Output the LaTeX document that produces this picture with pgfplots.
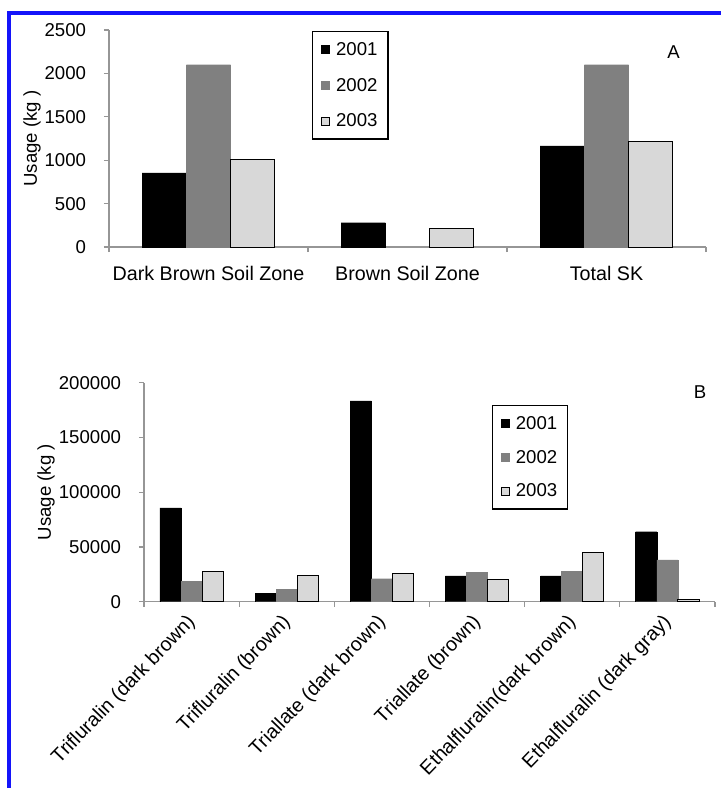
\documentclass[border=0pt]{standalone}
\usepackage{fontspec}
\setmainfont{Liberation Sans}
\usepackage{pgfplots}
\pgfplotsset{compat=1.18}

\definecolor{barB}{RGB}{128,128,128}
\definecolor{barC}{RGB}{216,216,216}
\definecolor{axisgray}{RGB}{150,150,150}
\definecolor{frameblue}{RGB}{20,20,250}

\newcommand{\chartfont}{\fontsize{18.6}{22}\selectfont}
\newcommand{\catfont}{\fontsize{19.7}{23}\selectfont}

\pgfplotsset{
  usagebars/.style={
    ybar=0pt,
    scale only axis,
    axis x line*=bottom,
    axis y line*=left,
    axis line style={axisgray, line width=1.2pt},
    tick style={axisgray, line width=1.2pt},
    major tick length=5pt,
    minor tick length=5pt,
    tick align=outside,
    major x tick style={draw=none},
    ytick pos=left, xtick pos=bottom,
    font=\chartfont,
    tick label style={font=\chartfont},
    yticklabel style={xshift=-14.5pt},
    scaled y ticks=false,
    /pgf/number format/.cd, fixed, precision=0, 1000 sep={}, assume math mode=true, /pgfplots/.cd,
    ymin=0,
    legend cell align=left,
    legend image code/.code={\draw[#1, line width=1pt] (0pt,-4pt) rectangle (8pt,4pt);},
    legend style={draw=black, line width=1.2pt, font=\chartfont,
      inner xsep=8.5pt, inner ysep=8.5pt, anchor=north west,
      /tikz/every odd column/.append style={column sep=4pt}},
  },
}

\begin{document}
\begin{tikzpicture}
\useasboundingbox (0pt,0pt) rectangle (721pt,-788pt);
\draw[frameblue, line width=4pt] (9pt,-788pt) -- (9pt,-13pt) -- (721pt,-13pt);

% Panel A: usage by soil zone
\begin{axis}[usagebars,
  at={(109pt,-247pt)}, anchor=south west,
  width=597pt, height=217pt,
  xmin=-0.5, xmax=2.5, ymax=2500,
  ytick={0,500,...,2500},
  xtick={0,1,2},
  xticklabels={Dark Brown Soil Zone, Brown Soil Zone, Total SK},
  xticklabel style={font=\catfont, yshift=-10.5pt},
  minor xtick={-0.5,0.5,1.5,2.5},
  bar width=44.2pt,
  ylabel={Usage (kg )},
  ylabel style={at={(axis description cs:-0.129,0.5)}, anchor=center},
  legend style={at={(axis description cs:0.340,0.995)}, row sep=17.4pt},
]
\addplot[fill=black, draw=black] coordinates {(0,855) (1,280) (2,1165)};
\addplot[fill=barB, draw=barB] coordinates {(0,2100) (2,2100)};
\addplot[fill=barC, draw=black, line width=1pt] coordinates {(0,1010) (1,210) (2,1220)};
\legend{2001,2002,2003}
\end{axis}

% Panel B: usage by herbicide and soil zone
\begin{axis}[usagebars,
  at={(144pt,-601.7pt)}, anchor=south west,
  width=571pt, height=219pt,
  xmin=-0.5, xmax=5.5, ymax=200000,
  ytick={0,50000,...,200000},
  xtick={0,1,2,3,4,5},
  xticklabels={Trifluralin (dark brown), Trifluralin (brown), Triallate (dark brown),
    Triallate (brown), Ethalfluralin(dark brown), Ethalfluralin (dark gray)},
  xticklabel style={font=\catfont, xshift=3pt, yshift=-10pt, rotate=46, anchor=east},
  minor xtick={-0.5,0.5,1.5,2.5,3.5,4.5,5.5},
  bar width=21.15pt,
  ylabel={Usage (kg )},
  ylabel style={at={(axis description cs:-0.1716,0.5)}, anchor=center},
  legend style={at={(axis description cs:0.609,0.898)}, row sep=15.4pt},
]
\addplot[fill=black, draw=black] coordinates {(0,85800) (1,7700) (2,183500) (3,23700) (4,23700) (5,63900)};
\addplot[fill=barB, draw=barB] coordinates {(0,18300) (1,11300) (2,21000) (3,26500) (4,28000) (5,38100)};
\addplot[fill=barC, draw=black, line width=1pt] coordinates {(0,27400) (1,23700) (2,26200) (3,20400) (4,44750) (5,2200)};
\legend{2001,2002,2003}
\end{axis}

\node[font=\chartfont] at (673.6pt,-52pt) {A};
\node[font=\chartfont] at (700pt,-392pt) {B};
\end{tikzpicture}
\end{document}
